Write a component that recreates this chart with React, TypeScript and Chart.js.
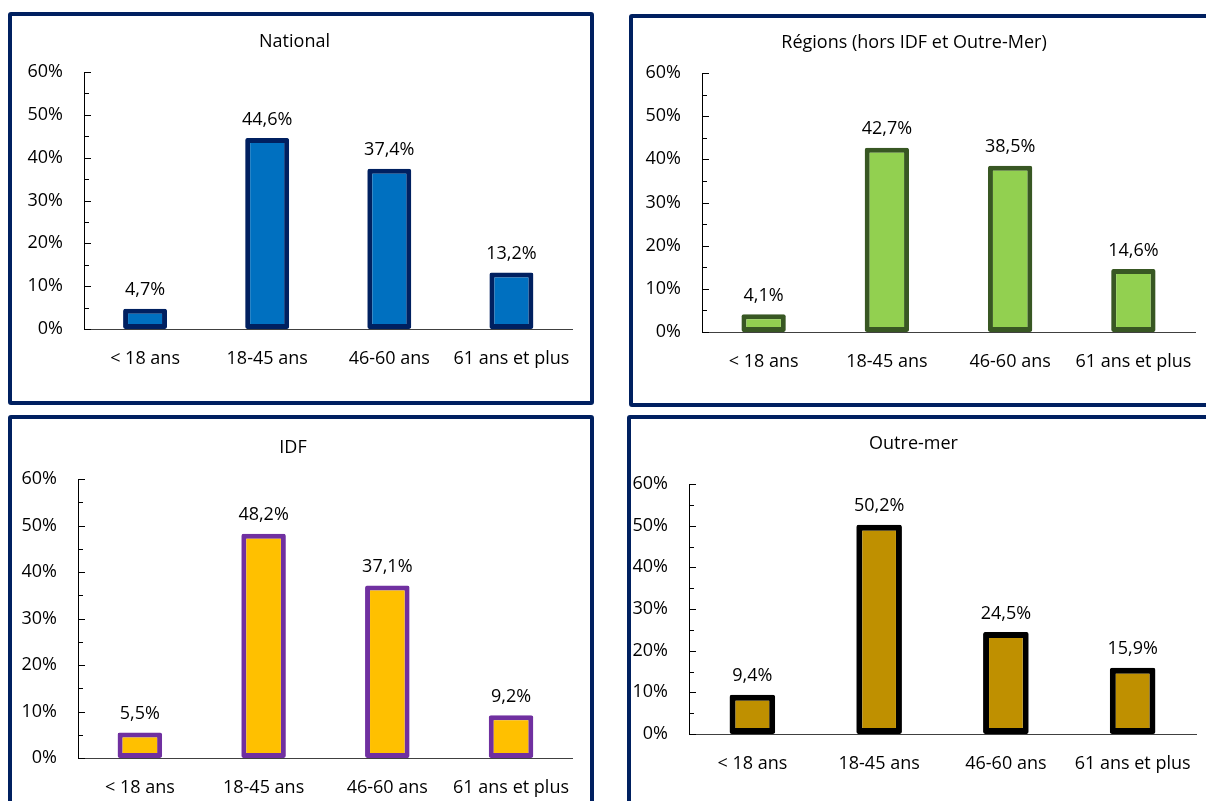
import React, { useEffect, useRef } from 'react';
import { Chart, registerables } from 'chart.js';

Chart.register(...registerables);

// ---- Data ----
const categories = ['< 18 ans', '18-45 ans', '46-60 ans', '61 ans et plus'];
const nationalValues = [4.7, 44.6, 37.4, 13.2];
const regionsValues = [4.1, 42.7, 38.5, 14.6];
const idfValues = [5.5, 48.2, 37.1, 9.2];
const outreMerValues = [9.4, 50.2, 24.5, 15.9];
const yTickMin = 0;
const yTickMax = 60;
const yTickStep = 10;
const yMinorStep = 5;
const panelTitles = ['National', 'Régions (hors IDF et Outre-Mer)', 'IDF', 'Outre-mer'];

const FONT = "'Open Sans', sans-serif";
const FONT_SIZE = 18;

type PanelCfg = {
  title: string;
  values: number[];
  fill: string;
  border: string;
  borderWidth: number;
  box: { left: number; top: number; width: number; height: number };
  canvas: { width: number; height: number };
  yW: number;
  xH: number;
  padRight: number;
  titleTop: number;
  titleBottom: number;
};

const panels: PanelCfg[] = [
  {
    title: panelTitles[0], values: nationalValues, fill: '#0070C0', border: '#002060', borderWidth: 5,
    box: { left: 8, top: 12, width: 586, height: 393 }, canvas: { width: 578, height: 385 },
    yW: 72, xH: 72, padRight: 13, titleTop: 15.2, titleBottom: 19.2,
  },
  {
    title: panelTitles[1], values: regionsValues, fill: '#92D050', border: '#385723', borderWidth: 5,
    box: { left: 629, top: 14, width: 590, height: 393 }, canvas: { width: 582, height: 385 },
    yW: 69, xH: 71, padRight: 20, titleTop: 14.2, titleBottom: 19.2,
  },
  {
    title: panelTitles[2], values: idfValues, fill: '#FFC000', border: '#7030A0', borderWidth: 5,
    box: { left: 8, top: 415, width: 586, height: 395 }, canvas: { width: 578, height: 385 },
    yW: 66, xH: 46, padRight: 16, titleTop: 18.2, titleBottom: 20.2,
  },
  {
    title: panelTitles[3], values: outreMerValues, fill: '#BF9000', border: '#000000', borderWidth: 6,
    box: { left: 627, top: 415, width: 600, height: 395 }, canvas: { width: 590, height: 382 },
    yW: 58, xH: 67, padRight: 25, titleTop: 14.2, titleBottom: 29.2,
  },
];

const fmtPct = (v: number) => v.toFixed(1).replace('.', ',') + '%';

const axisTicksPlugin = {
  id: 'axisTicks',
  afterDraw(chart: any) {
    const { ctx, chartArea } = chart;
    const y = chart.scales.y;
    ctx.save();
    ctx.strokeStyle = '#000';
    ctx.lineWidth = 1;
    for (let v = yTickMin; v <= yTickMax; v += yMinorStep) {
      const py = Math.round(y.getPixelForValue(v)) + 0.5;
      const len = v % yTickStep === 0 ? 7 : 5;
      const x0 = Math.round(chartArea.left);
      ctx.beginPath();
      ctx.moveTo(x0, py);
      ctx.lineTo(x0 + len, py);
      ctx.stroke();
    }
    ctx.restore();
  },
};

const dataLabelPlugin = {
  id: 'dataLabels',
  afterDatasetsDraw(chart: any) {
    const { ctx } = chart;
    const meta = chart.getDatasetMeta(0);
    const data = chart.data.datasets[0].data as number[];
    ctx.save();
    ctx.fillStyle = '#000';
    ctx.font = `${FONT_SIZE}px ${FONT}`;
    ctx.textAlign = 'center';
    ctx.textBaseline = 'middle';
    meta.data.forEach((el: any, i: number) => {
      ctx.fillText(fmtPct(data[i]), el.x, el.y - 18.5);
    });
    ctx.restore();
  },
};

function Panel({ cfg }: { cfg: PanelCfg }) {
  const ref = useRef<HTMLCanvasElement | null>(null);
  useEffect(() => {
    if (!ref.current) return;
    const font = { family: FONT, size: FONT_SIZE, weight: 'normal' as const, lineHeight: 1.2 };
    const chart = new Chart(ref.current, {
      type: 'bar',
      data: {
        labels: categories,
        datasets: [
          {
            data: cfg.values,
            backgroundColor: cfg.fill,
            borderColor: cfg.border,
            borderWidth: cfg.borderWidth,
            borderSkipped: false,
            borderRadius: 2,
            barPercentage: 0.36,
            categoryPercentage: 1,
          },
        ],
      },
      options: {
        animation: false,
        responsive: false,
        maintainAspectRatio: false,
        layout: { padding: { left: 0, right: cfg.padRight, top: 0, bottom: 0 } },
        plugins: {
          legend: { display: false },
          tooltip: { enabled: false },
          title: {
            display: true,
            text: cfg.title,
            color: '#000',
            font,
            padding: { top: cfg.titleTop, bottom: cfg.titleBottom },
          },
        },
        scales: {
          x: {
            grid: { display: false, drawTicks: false },
            border: { display: true, color: '#404040', width: 1 },
            ticks: { color: '#000', font, padding: 19, maxRotation: 0, autoSkip: false },
            afterFit: (s: any) => {
              s.height = cfg.xH;
            },
          },
          y: {
            min: yTickMin,
            max: yTickMax,
            grid: { display: false, drawTicks: false },
            border: { display: true, color: '#000', width: 1 },
            ticks: {
              stepSize: yTickStep,
              color: '#000',
              font,
              padding: 21,
              callback: (v: any) => v + '%',
            },
            afterFit: (s: any) => {
              s.width = cfg.yW;
            },
          },
        },
      },
      plugins: [axisTicksPlugin, dataLabelPlugin],
    } as any);
    return () => chart.destroy();
  }, [cfg]);

  return (
    <div
      style={{
        position: 'absolute',
        left: cfg.box.left,
        top: cfg.box.top,
        width: cfg.box.width,
        height: cfg.box.height,
        border: '4px solid #002060',
        borderRadius: 3,
        boxSizing: 'border-box',
        background: '#fff',
      }}
    >
      <canvas
        ref={ref}
        width={cfg.canvas.width}
        height={cfg.canvas.height}
        style={{ position: 'absolute', left: 0, top: 0, width: cfg.canvas.width, height: cfg.canvas.height }}
      />
    </div>
  );
}

export default function App() {
  return (
    <div
      style={{
        position: 'fixed',
        left: 0,
        top: 0,
        width: 1206,
        height: 801,
        overflow: 'hidden',
        background: '#fff',
      }}
    >
      {panels.map((p, i) => (
        <Panel key={i} cfg={p} />
      ))}
    </div>
  );
}
